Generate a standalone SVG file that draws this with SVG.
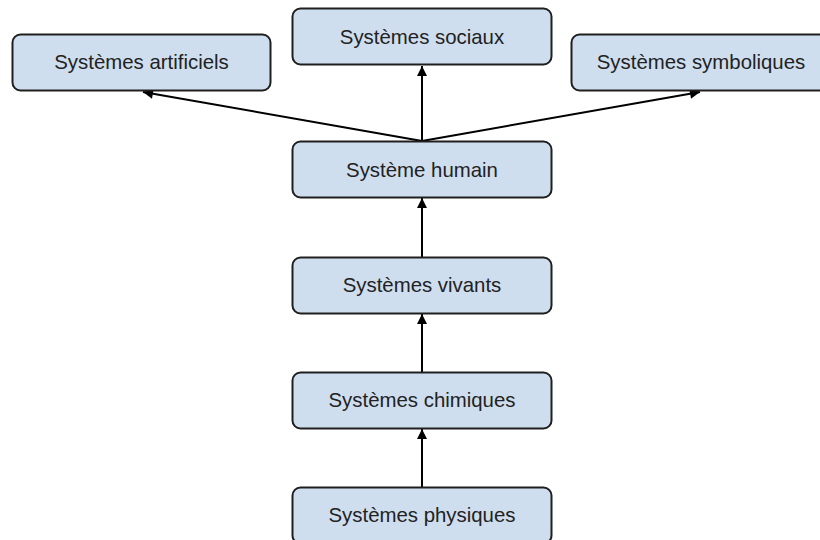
<svg xmlns="http://www.w3.org/2000/svg" width="820" height="540" viewBox="0 0 820 540">
<defs>
<style>
.box{fill:#cfdeef;stroke:#1f1f1f;stroke-width:2}
.lbl{font-family:"Liberation Sans",Arial,sans-serif;font-size:20.4px;fill:#222;text-anchor:middle;dominant-baseline:central}
.edge{stroke:#000;stroke-width:2;fill:none}
</style>
<marker id="ah" viewBox="0 0 10 10" refX="10" refY="5" markerWidth="5.5" markerHeight="5" markerUnits="strokeWidth" orient="auto">
<path d="M0,0 L10,5 L0,10 z" fill="#000"/>
</marker>
</defs>
<rect width="820" height="540" fill="#fff"/>
<g id="connectors">
<line class="edge" x1="422" y1="141" x2="422" y2="66" marker-end="url(#ah)"/>
<line class="edge" x1="422" y1="141" x2="143" y2="92" marker-end="url(#ah)"/>
<line class="edge" x1="422" y1="141" x2="700" y2="92" marker-end="url(#ah)"/>
<line class="edge" x1="422" y1="257" x2="422" y2="198" marker-end="url(#ah)"/>
<line class="edge" x1="422" y1="372" x2="422" y2="314" marker-end="url(#ah)"/>
<line class="edge" x1="422" y1="487" x2="422" y2="429" marker-end="url(#ah)"/>
</g>
<g id="artificiels"><rect class="box" x="12.5" y="34.5" width="258" height="56" rx="8"/><text class="lbl" x="141.5" y="62">Systèmes artificiels</text></g>
<g id="sociaux"><rect class="box" x="292.5" y="8.5" width="259" height="56" rx="8"/><text class="lbl" x="422" y="37">Systèmes sociaux</text></g>
<g id="symboliques"><rect class="box" x="571.5" y="34.5" width="260" height="56" rx="8"/><text class="lbl" x="701" y="62">Systèmes symboliques</text></g>
<g id="humain"><rect class="box" x="292.5" y="141.5" width="259" height="56" rx="8"/><text class="lbl" x="422" y="170">Système humain</text></g>
<g id="vivants"><rect class="box" x="292.5" y="257.5" width="259" height="56" rx="8"/><text class="lbl" x="422" y="285">Systèmes vivants</text></g>
<g id="chimiques"><rect class="box" x="292.5" y="372.5" width="259" height="56" rx="8"/><text class="lbl" x="422" y="400">Systèmes chimiques</text></g>
<g id="physiques"><rect class="box" x="292.5" y="487.5" width="259" height="56" rx="8"/><text class="lbl" x="422" y="515">Systèmes physiques</text></g>
</svg>
